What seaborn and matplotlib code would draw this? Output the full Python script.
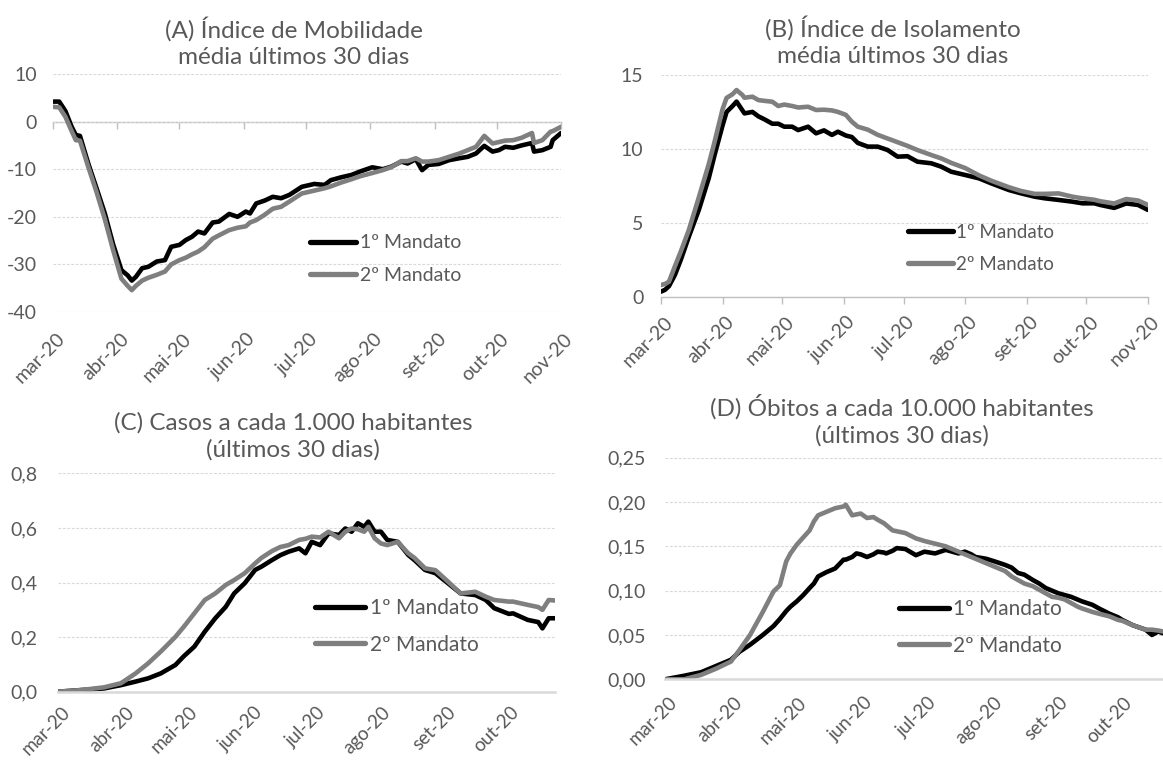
import numpy as np
import pandas as pd
import matplotlib
matplotlib.use("Agg")
import matplotlib.pyplot as plt
import matplotlib.dates as mdates
import matplotlib.transforms as mtransforms
from matplotlib.ticker import FuncFormatter
import seaborn as sns

# ---------------- data ----------------
START = "2020-03-01"
series_names = ["1º Mandato", "2º Mandato"]
series_colors = ["#000000", "#7f7f7f"]
month_labels = ["mar-20", "abr-20", "mai-20", "jun-20", "jul-20",
                "ago-20", "set-20", "out-20", "nov-20"]
month_starts = ["2020-03-01", "2020-04-01", "2020-05-01", "2020-06-01", "2020-07-01",
                "2020-08-01", "2020-09-01", "2020-10-01", "2020-11-01"]

titles = ["(A) Índice de Mobilidade\nmédia últimos 30 dias",
          "(B) Índice de Isolamento\nmédia últimos 30 dias",
          "(C) Casos a cada 1.000 habitantes\n(últimos 30 dias)",
          "(D) Óbitos a cada 10.000 habitantes\n(últimos 30 dias)"]

# days since 2020-03-01
a_days = [0, 3, 6, 9, 11, 13, 17, 21, 25, 29, 33, 36, 38, 40, 43, 46, 50, 54, 57, 61,
          64, 67, 70, 73, 77, 80, 85, 89, 93, 95, 98, 102, 106, 110, 114, 120, 126, 131, 134, 139,
          144, 148, 154, 159, 163, 168, 171, 175, 178, 181, 186, 191, 196, 200, 204, 208, 212, 215, 218, 222,
          226, 231, 232, 236, 240, 241, 245]
a_m1 = [4.2, 4.2, 2.2, -1.1, -2.8, -3.0, -8.8, -14.0, -19.3, -25.8,
        -31.2, -32.3, -33.4, -32.6, -30.8, -30.5, -29.4, -29.1, -26.3, -25.9,
        -24.9, -24.2, -23.1, -23.5, -21.2, -21.0, -19.4, -20.0, -18.9, -19.3,
        -17.2, -16.6, -15.8, -16.1, -15.4, -13.7, -13.1, -13.3, -12.3, -11.7,
        -11.2, -10.5, -9.6, -10.0, -9.5, -8.4, -8.8, -7.9, -10.2, -9.1,
        -8.9, -8.1, -7.7, -7.4, -6.7, -5.1, -6.3, -6.0, -5.3, -5.5,
        -5.0, -4.5, -6.3, -6.0, -5.3, -3.9, -2.4]
a_m2 = [3.1, 3.0, 1.0, -2.0, -3.9, -4.0, -9.5, -14.8, -20.5, -27.0,
        -33.0, -34.5, -35.4, -34.5, -33.4, -32.8, -32.2, -31.5, -30.0, -29.1,
        -28.6, -27.9, -27.3, -26.4, -24.6, -23.9, -22.8, -22.3, -22.0, -21.2,
        -20.7, -19.6, -18.3, -17.9, -16.8, -15.1, -14.5, -14.0, -13.6, -12.8,
        -12.1, -11.5, -10.8, -10.2, -9.6, -8.3, -8.3, -7.7, -8.4, -8.4,
        -8.1, -7.4, -6.7, -6.0, -5.3, -3.0, -4.6, -4.3, -4.0, -3.9,
        -3.4, -2.4, -4.5, -3.9, -2.1, -2.0, -1.1]

b_days = [0, 2, 4, 7, 10, 14, 19, 24, 27, 31, 33, 36, 38, 41, 42, 46, 49, 52, 56, 59,
          62, 66, 69, 74, 78, 82, 86, 89, 93, 96, 99, 104, 109, 114, 119, 124, 129, 136, 141, 146,
          153, 160, 166, 175, 181, 188, 193, 200, 207, 212, 218, 221, 228, 234, 240, 245]
b_m1 = [0.33, 0.45, 0.7, 1.46, 2.5, 4.05, 5.85, 8.0, 9.6, 11.6,
        12.5, 12.9, 13.2, 12.6, 12.4, 12.5, 12.2, 12.0, 11.7, 11.7,
        11.5, 11.5, 11.27, 11.5, 11.05, 11.25, 10.94, 11.16, 10.9, 10.8,
        10.4, 10.15, 10.15, 9.92, 9.47, 9.5, 9.13, 9.02, 8.79, 8.45,
        8.23, 8.0, 7.67, 7.21, 6.99, 6.76, 6.65, 6.54, 6.42, 6.31,
        6.31, 6.2, 6.0, 6.3, 6.2, 5.86]
b_m2 = [0.78, 0.85, 1.0, 2.05, 3.06, 4.5, 6.7, 8.95, 10.5, 12.7,
        13.45, 13.7, 13.98, 13.64, 13.46, 13.53, 13.3, 13.25, 13.19, 12.9,
        13.0, 12.9, 12.8, 12.85, 12.63, 12.65, 12.6, 12.5, 12.3, 11.84,
        11.5, 11.3, 10.95, 10.7, 10.45, 10.2, 9.92, 9.58, 9.35, 9.05,
        8.7, 8.2, 7.85, 7.4, 7.15, 6.95, 6.95, 6.98, 6.76, 6.65,
        6.55, 6.45, 6.3, 6.6, 6.5, 6.2]

c_days = [0, 11, 22, 30, 37, 43, 49, 56, 60, 65, 70, 75, 80, 84, 89, 94, 97, 102, 106, 110,
          115, 118, 121, 125, 129, 134, 137, 140, 143, 146, 148, 151, 154, 157, 162, 167, 170, 175, 180, 186,
          192, 199, 204, 208, 215, 217, 224, 229, 231, 234, 237]
c_m1 = [0.0, 0.006, 0.012, 0.024, 0.037, 0.049, 0.067, 0.098, 0.13, 0.165,
        0.22, 0.269, 0.311, 0.36, 0.397, 0.446, 0.458, 0.482, 0.5, 0.513,
        0.525, 0.507, 0.549, 0.537, 0.58, 0.574, 0.598, 0.586, 0.617, 0.604,
        0.623, 0.586, 0.586, 0.556, 0.549, 0.501, 0.482, 0.446, 0.434, 0.397,
        0.36, 0.354, 0.336, 0.306, 0.285, 0.287, 0.263, 0.255, 0.232, 0.269,
        0.269]
c_m2 = [0.0, 0.006, 0.016, 0.031, 0.067, 0.104, 0.147, 0.201, 0.238, 0.287,
        0.336, 0.36, 0.391, 0.409, 0.434, 0.47, 0.49, 0.515, 0.53, 0.537,
        0.556, 0.56, 0.568, 0.565, 0.586, 0.562, 0.586, 0.598, 0.595, 0.586,
        0.604, 0.562, 0.543, 0.537, 0.549, 0.507, 0.49, 0.452, 0.445, 0.403,
        0.36, 0.366, 0.348, 0.336, 0.33, 0.33, 0.318, 0.31, 0.3, 0.336,
        0.334]

d_days = [0, 9, 17, 24, 31, 35, 40, 46, 51, 54, 57, 59, 62, 65, 68, 70, 72, 76, 80, 84,
          85, 88, 90, 92, 95, 98, 100, 103, 104, 107, 109, 113, 118, 122, 127, 132, 138, 141, 144, 146,
          151, 155, 160, 163, 166, 169, 173, 176, 179, 182, 185, 188, 191, 194, 196, 201, 204, 209, 213, 215,
          220, 226, 229, 232, 234, 237]
d_m1 = [0.0, 0.004, 0.008, 0.015, 0.022, 0.031, 0.039, 0.05, 0.06, 0.068,
        0.077, 0.082, 0.088, 0.095, 0.103, 0.108, 0.116, 0.121, 0.125, 0.135,
        0.135, 0.138, 0.142, 0.141, 0.138, 0.141, 0.144, 0.143, 0.142, 0.145,
        0.148, 0.147, 0.14, 0.144, 0.142, 0.146, 0.142, 0.144, 0.141, 0.138,
        0.136, 0.133, 0.129, 0.126, 0.12, 0.118, 0.112, 0.108, 0.103, 0.1,
        0.097, 0.095, 0.093, 0.09, 0.088, 0.084, 0.08, 0.074, 0.07, 0.067,
        0.061, 0.056, 0.05, 0.054, 0.052, 0.053]
d_m2 = [0.0, 0.0, 0.005, 0.012, 0.02, 0.033, 0.05, 0.076, 0.099, 0.106,
        0.133, 0.142, 0.152, 0.16, 0.168, 0.178, 0.185, 0.189, 0.193, 0.195,
        0.197, 0.185, 0.186, 0.187, 0.182, 0.183, 0.18, 0.176, 0.174, 0.168,
        0.167, 0.165, 0.159, 0.156, 0.153, 0.15, 0.144, 0.141, 0.138, 0.136,
        0.131, 0.127, 0.122, 0.116, 0.112, 0.108, 0.105, 0.101, 0.097, 0.093,
        0.092, 0.09, 0.086, 0.082, 0.08, 0.076, 0.074, 0.071, 0.067, 0.066,
        0.061, 0.056, 0.056, 0.055, 0.054, 0.054]

a_yticks = [-40, -30, -20, -10, 0, 10]
b_yticks = [0, 5, 10, 15]
c_yticks = [0.0, 0.2, 0.4, 0.6, 0.8]
d_yticks = [0.0, 0.05, 0.10, 0.15, 0.20, 0.25]
c_end_day = 237

# ---------------- style ----------------
sns.set_theme(style="white")
plt.rcParams["font.family"] = ["Lato", "DejaVu Sans"]
TXT = "#595959"
GRID = "#d9d9d9"
AXC = "#bfbfbf"
TICKFS = 14
TITLEFS = 17.5

W, H = 1163, 762
fig = plt.figure(figsize=(W / 100, H / 100), dpi=100)


def make_df(days, m1, m2):
    t0 = pd.Timestamp(START)
    frames = []
    for name, vals in zip(series_names, [m1, m2]):
        frames.append(pd.DataFrame({"date": t0 + pd.to_timedelta(days, unit="D"),
                                    "valor": vals, "serie": name}))
    return pd.concat(frames, ignore_index=True)


panels = [
    dict(box=(53, 561, 74, 312), df=make_df(a_days, a_m1, a_m2), yt=a_yticks, fmt="{:.0f}",
         end=month_starts[-1], nt=9, title=titles[0], tc=(294, 42), leg=(0.486, 0.222), lfs=14,
         ypad=11.5, mode="zero", xfs=14, xpad=13),
    dict(box=(661, 1148, 75, 296.5), df=make_df(b_days, b_m1, b_m2), yt=b_yticks, fmt="{:.0f}",
         end=month_starts[-1], nt=9, title=titles[1], tc=(893, 41), leg=(0.487, 0.217), lfs=13.5,
         ypad=12.6, mode="ticks", xfs=14, xpad=7),
    dict(box=(58, 555, 473.3, 691.7), df=make_df(c_days, c_m1, c_m2), yt=c_yticks, fmt="{:.1f}",
         end=None, nt=8, title=titles[2], tc=(293, 436), leg=(0.497, 0.299), lfs=15,
         ypad=14.5, mode="plain", xfs=13.5, xpad=8.5),
    dict(box=(665, 1169, 457.7, 679.3), df=make_df(d_days, d_m1, d_m2), yt=d_yticks, fmt="{:.2f}",
         end=None, nt=8, title=titles[3], tc=(902, 420), leg=(0.444, 0.234), lfs=15,
         ypad=13.6, mode="plain", xfs=13.5, xpad=10.5),
]

palette = dict(zip(series_names, series_colors))
shift = mtransforms.ScaledTranslation(3 / 100, 0, fig.dpi_scale_trans)

for p in panels:
    x0, x1, yt_, yb_ = p["box"]
    ax = fig.add_axes([x0 / W, 1 - yb_ / H, (x1 - x0) / W, (yb_ - yt_) / H])
    sns.lineplot(data=p["df"], x="date", y="valor", hue="serie", hue_order=series_names,
                 palette=palette, linewidth=3.3, estimator=None, legend=False, ax=ax)
    t0 = pd.Timestamp(START)
    tend = pd.Timestamp(p["end"]) if p["end"] else t0 + pd.Timedelta(days=c_end_day)
    ax.set_xlim(t0, tend)
    ax.set_ylim(p["yt"][0], p["yt"][-1])
    ax.set_yticks(p["yt"])
    fmt = p["fmt"]
    ax.yaxis.set_major_formatter(FuncFormatter(lambda v, pos, f=fmt: f.format(v).replace(".", ",")))
    ticks = pd.to_datetime(month_starts[:p["nt"]])
    ax.set_xticks(ticks)
    ax.set_xticklabels(month_labels[:p["nt"]])
    ax.set_xlabel("")
    ax.set_ylabel("")
    for s in ["top", "right", "left"]:
        ax.spines[s].set_visible(False)
    ax.yaxis.grid(True, linestyle=(0, (2.5, 1.5)), color=GRID, linewidth=0.8)
    ax.xaxis.grid(False)
    ax.tick_params(axis="y", length=0, pad=p["ypad"], labelsize=TICKFS, labelcolor=TXT)

    if p["mode"] == "zero":
        ax.spines["bottom"].set_visible(False)
        ax.tick_params(axis="x", length=0, pad=p["xpad"], labelsize=p["xfs"], labelcolor=TXT)
        frac = (0 - p["yt"][0]) / (p["yt"][-1] - p["yt"][0])
        sec = ax.secondary_xaxis(frac)
        sec.set_alignment("bottom")
        sec.set_xticks(mdates.date2num(ticks))
        sec.tick_params(axis="x", length=5, width=1, direction="out", color=AXC,
                        labelbottom=False, labeltop=False)
        sec.spines["bottom"].set_color(AXC)
        sec.spines["bottom"].set_linewidth(1.0)
    elif p["mode"] == "ticks":
        ax.spines["bottom"].set_color(AXC)
        ax.spines["bottom"].set_linewidth(1.0)
        ax.tick_params(axis="x", bottom=True, length=5, width=1, direction="out", color=AXC,
                       pad=p["xpad"], labelsize=p["xfs"], labelcolor=TXT)
    else:
        ax.spines["bottom"].set_color(GRID)
        ax.spines["bottom"].set_linewidth(1.8)
        ax.tick_params(axis="x", length=0, pad=p["xpad"], labelsize=p["xfs"], labelcolor=TXT)

    for lab in ax.get_xticklabels():
        lab.set_rotation(45)
        lab.set_ha("right")
        lab.set_va("top")
        lab.set_rotation_mode("anchor")
        lab.set_transform(lab.get_transform() + shift)

    handles = ax.get_lines()[:2]
    leg = ax.legend(handles=handles, labels=series_names, loc="center left",
                    bbox_to_anchor=p["leg"], frameon=False, borderpad=0,
                    handlelength=2.4, handletextpad=0.2, labelspacing=0.8,
                    fontsize=p["lfs"], labelcolor=TXT)
    for h in leg.legend_handles:
        h.set_linewidth(3.8)

    cx, cy = p["tc"]
    fig.text(cx / W, 1 - cy / H, p["title"], ha="center", va="center",
             fontsize=TITLEFS, color=TXT, linespacing=1.3)

fig.savefig("out.png", dpi=100)
